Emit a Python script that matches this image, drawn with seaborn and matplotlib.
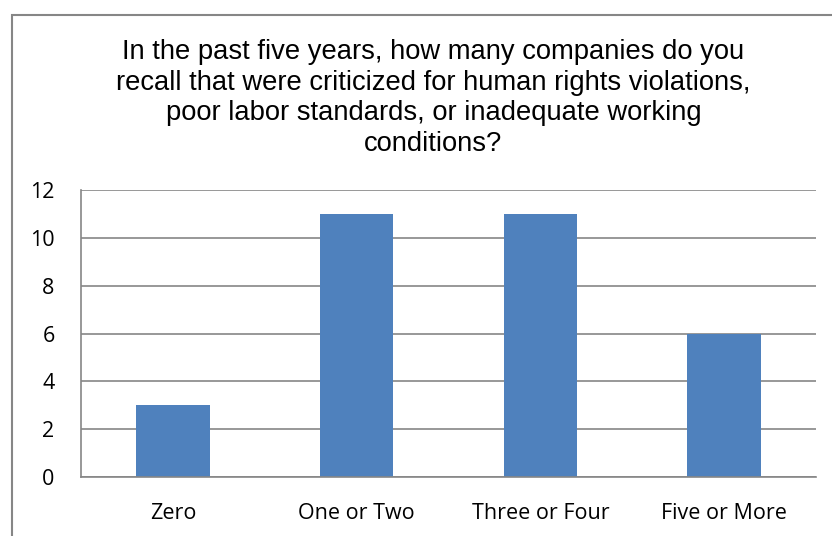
import matplotlib
matplotlib.use("Agg")
import matplotlib.pyplot as plt
import seaborn as sns
import pandas as pd
from matplotlib.patches import Rectangle

categories = ["Zero", "One or Two", "Three or Four", "Five or More"]
counts = [3, 11, 11, 6]
y_ticks = [0, 2, 4, 6, 8, 10, 12]
title_text = ("In the past five years, how many companies do you\n"
              "recall that were criticized for human rights violations,\n"
              "poor labor standards, or inadequate working\n"
              "conditions?")

sns.set_style("white")
plt.rcParams["font.family"] = ["Open Sans", "DejaVu Sans"]

df = pd.DataFrame({"category": categories, "count": counts})

fig = plt.figure(figsize=(8.32, 5.36), dpi=100)
ax = fig.add_axes([81 / 832, 59 / 536, 735 / 832, 287 / 536])

sns.barplot(data=df, x="category", y="count", color="#4F81BD",
            saturation=1, width=0.4, linewidth=0, ax=ax)

ax.set_ylim(0, 12)
ax.set_yticks(y_ticks)
ax.yaxis.grid(True, color="#868686", linewidth=1.2)
ax.set_axisbelow(True)
ax.set_xlabel("")
ax.set_ylabel("")
for side in ["top", "right"]:
    ax.spines[side].set_visible(False)
for side in ["left", "bottom"]:
    ax.spines[side].set_color("#868686")
    ax.spines[side].set_linewidth(1.2)
ax.tick_params(axis="y", length=0, pad=19, labelsize=15.5, labelcolor="black")
ax.tick_params(axis="x", length=0, pad=18.5, labelsize=15.5, labelcolor="black")

# outer chart frame
fig.patches.append(Rectangle((12 / 832, -0.1), 1.2, (536 - 15) / 536 + 0.1,
                             transform=fig.transFigure, fill=False,
                             edgecolor="#868686", linewidth=1.5))

fig.text(0.521, 1 - 98 / 536, title_text, ha="center", va="center",
         fontsize=19.7, family=["Liberation Sans", "DejaVu Sans"],
         linespacing=1.22, color="black")

fig.savefig("out.png", dpi=100, facecolor="white")
